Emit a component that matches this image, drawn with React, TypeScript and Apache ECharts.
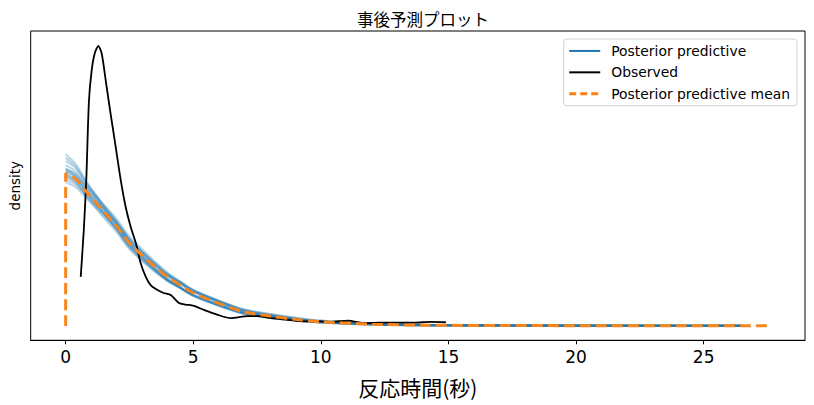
import React, { useEffect, useRef } from "react";
import * as echarts from "echarts";

const CJK = "'Noto Sans CJK JP', 'DejaVu Sans', sans-serif";
const LATIN = "'DejaVu Sans', 'Noto Sans CJK JP', sans-serif";

const TITLE = "事後予測プロット";
const X_LABEL = "反応時間(秒)";
const Y_LABEL = "density";
const X_TICKS = [0, 5, 10, 15, 20, 25];

// Observed KDE
const OBS_X = [0.59, 0.71, 0.81, 0.91, 1.02, 1.14, 1.28, 1.41, 1.57, 1.76, 1.96, 2.16, 2.35, 2.55, 2.75, 2.94, 3.14, 3.33, 3.6, 3.84, 4.12, 4.43, 4.7, 5.02, 5.41, 5.96, 6.47, 7.13, 7.53, 8.04, 8.71, 9.33, 10.0, 10.4, 11.06, 11.69, 12.35, 13.02, 13.65, 14.3, 14.9];
const OBS_Y = [0.119, 0.232, 0.358, 0.543, 0.62, 0.661, 0.679, 0.661, 0.595, 0.515, 0.434, 0.353, 0.289, 0.24, 0.201, 0.152, 0.119, 0.099, 0.087, 0.08, 0.075, 0.056, 0.052, 0.049, 0.039, 0.027, 0.019, 0.024, 0.024, 0.019, 0.015, 0.011, 0.011, 0.01, 0.013, 0.007, 0.008, 0.008, 0.008, 0.01, 0.009];

// Posterior predictive mean
const MEAN_X = [0, 0, 0.4, 0.8, 1.2, 1.6, 2, 2.5, 3, 3.5, 4, 4.5, 5, 6, 7, 8, 9, 10, 12, 14, 17, 20, 24, 27.5];
const MEAN_Y = [0, 0.37, 0.356, 0.326, 0.298, 0.27, 0.242, 0.201, 0.171, 0.143, 0.118, 0.099, 0.08, 0.055, 0.034, 0.024, 0.016, 0.01, 0.0045, 0.002, 0.0012, 0.0008, 0.0006, 0.0005];

// Posterior predictive samples (shared x grid)
const PP_X = [0, 0.4, 0.8, 1.2, 1.6, 2, 2.5, 3, 3.5, 4, 4.5, 5, 6, 7, 8, 9, 10, 12, 14, 17, 20, 26.5];
const PP_A = [0.416, 0.392, 0.352, 0.316, 0.282, 0.25, 0.205, 0.171, 0.14, 0.113, 0.093, 0.074, 0.049, 0.029, 0.02, 0.013, 0.008, 0.0035, 0.0014, 0.0008, 0.0005, 0.0003];
const PP_B = [0.4, 0.382, 0.348, 0.316, 0.285, 0.254, 0.211, 0.179, 0.149, 0.122, 0.102, 0.082, 0.056, 0.034, 0.024, 0.016, 0.01, 0.0045, 0.002, 0.0012, 0.0008, 0.0005];
const PP_C = [0.39, 0.374, 0.34, 0.31, 0.28, 0.251, 0.209, 0.179, 0.15, 0.124, 0.104, 0.084, 0.058, 0.036, 0.025, 0.017, 0.0105, 0.005, 0.0023, 0.0014, 0.0009, 0.0006];
const PP_D = [0.382, 0.366, 0.334, 0.304, 0.274, 0.244, 0.201, 0.169, 0.139, 0.113, 0.093, 0.074, 0.05, 0.03, 0.021, 0.014, 0.009, 0.0038, 0.0016, 0.0009, 0.0006, 0.0004];
const PP_E = [0.375, 0.361, 0.332, 0.305, 0.278, 0.251, 0.211, 0.181, 0.153, 0.127, 0.107, 0.087, 0.06, 0.037, 0.026, 0.017, 0.0105, 0.005, 0.0022, 0.0013, 0.0009, 0.0006];
const PP_F = [0.366, 0.353, 0.325, 0.299, 0.273, 0.246, 0.206, 0.177, 0.149, 0.124, 0.105, 0.085, 0.059, 0.037, 0.026, 0.0175, 0.011, 0.005, 0.0023, 0.0013, 0.0009, 0.0006];
const PP_G = [0.36, 0.347, 0.319, 0.292, 0.265, 0.237, 0.195, 0.164, 0.136, 0.111, 0.093, 0.075, 0.051, 0.031, 0.022, 0.015, 0.0095, 0.0042, 0.0018, 0.0011, 0.0007, 0.0004];
const PP_H = [0.354, 0.342, 0.316, 0.291, 0.266, 0.24, 0.201, 0.173, 0.147, 0.123, 0.105, 0.087, 0.062, 0.04, 0.029, 0.02, 0.013, 0.0065, 0.003, 0.0017, 0.0011, 0.0007];
const PP_I = [0.348, 0.336, 0.31, 0.285, 0.26, 0.234, 0.195, 0.167, 0.141, 0.118, 0.101, 0.084, 0.061, 0.04, 0.029, 0.02, 0.013, 0.0065, 0.003, 0.0017, 0.0011, 0.0007];
const PP_J = [0.378, 0.362, 0.328, 0.296, 0.264, 0.233, 0.19, 0.16, 0.133, 0.11, 0.093, 0.076, 0.053, 0.033, 0.024, 0.016, 0.01, 0.0045, 0.002, 0.0012, 0.0008, 0.0005];
const PP_K = [0.37, 0.356, 0.324, 0.294, 0.264, 0.234, 0.192, 0.162, 0.135, 0.111, 0.093, 0.075, 0.052, 0.032, 0.023, 0.0155, 0.0097, 0.0044, 0.002, 0.0012, 0.0008, 0.0005];
const PP_L = [0.408, 0.386, 0.346, 0.31, 0.276, 0.244, 0.199, 0.166, 0.136, 0.11, 0.091, 0.073, 0.049, 0.03, 0.021, 0.014, 0.0085, 0.0037, 0.0015, 0.0009, 0.0005, 0.0003];
const PP_M = [0.38, 0.368, 0.34, 0.314, 0.287, 0.259, 0.217, 0.186, 0.156, 0.129, 0.108, 0.088, 0.061, 0.038, 0.027, 0.018, 0.0115, 0.0055, 0.0025, 0.0015, 0.001, 0.0006];
const PP_N = [0.365, 0.348, 0.315, 0.285, 0.255, 0.227, 0.186, 0.157, 0.131, 0.108, 0.091, 0.073, 0.05, 0.03, 0.021, 0.014, 0.0085, 0.0035, 0.0015, 0.0009, 0.0006, 0.0004];
const PP_SAMPLES = [PP_A, PP_B, PP_C, PP_D, PP_E, PP_F, PP_G, PP_H, PP_I, PP_J, PP_K, PP_L, PP_M, PP_N];

const PP_NAME = "Posterior predictive";
const OBS_NAME = "Observed";
const MEAN_NAME = "Posterior predictive mean";

const zip = (xs: number[], ys: number[]) => xs.map((x, i) => [x, ys[i]]);

export default function App() {
  const ref = useRef<HTMLDivElement>(null);
  useEffect(() => {
    if (!ref.current) return;
    const chart = echarts.init(ref.current, null, { renderer: "svg" });
    const ppSeries = PP_SAMPLES.map((ys) => ({
      type: "line",
      name: PP_NAME,
      data: zip(PP_X, ys),
      symbol: "none",
      smooth: 0.3,
      lineStyle: { color: "#1f77b4", width: 2, opacity: 0.3 },
      itemStyle: { color: "#1f77b4" },
      z: 2,
    }));
    chart.setOption({
      animation: false,
      title: {
        text: TITLE,
        left: 418,
        top: 6,
        textAlign: "center",
        textStyle: { fontFamily: CJK, fontSize: 16.5, fontWeight: "normal", color: "#000" },
      },
      legend: {
        orient: "vertical",
        right: 17,
        top: 39,
        itemWidth: 31,
        itemHeight: 12,
        itemGap: 7.5,
        padding: [5, 7, 5, 4],
        borderColor: "#d0d0d0",
        borderWidth: 1,
        borderRadius: 3,
        backgroundColor: "#fff",
        selectedMode: false,
        itemStyle: { opacity: 0 },
        textStyle: { fontFamily: LATIN, fontSize: 13.9, color: "#000", padding: [0, 0, 0, 6] },
        data: [
          { name: PP_NAME, itemStyle: { opacity: 0 }, lineStyle: { color: "#1f77b4", width: 2, opacity: 1 } },
          { name: OBS_NAME, itemStyle: { opacity: 0 }, lineStyle: { color: "#000", width: 2 } },
          { name: MEAN_NAME, itemStyle: { opacity: 0 }, lineStyle: { color: "#ff7f0e", width: 3, type: [7, 4] } },
        ],
      },
      grid: {
        left: 30.7,
        right: 9,
        top: 31,
        bottom: 64.7,
        show: true,
        borderColor: "#000",
        borderWidth: 1,
        backgroundColor: "transparent",
      },
      xAxis: {
        type: "value",
        min: -1.37,
        max: 28.97,
        name: X_LABEL,
        nameLocation: "middle",
        nameGap: 36,
        nameTextStyle: { fontFamily: CJK, fontSize: 21, color: "#000" },
        axisLine: { show: true, onZero: false, lineStyle: { color: "#000", width: 1 } },
        axisTick: { show: true, length: 4, customValues: X_TICKS, lineStyle: { color: "#000" } },
        axisLabel: { customValues: X_TICKS, fontFamily: LATIN, fontSize: 17, color: "#000", margin: 8 },
        splitLine: { show: false },
      },
      yAxis: {
        type: "value",
        min: -0.0347,
        max: 0.715,
        name: Y_LABEL,
        nameLocation: "middle",
        nameGap: 9,
        nameRotate: 90,
        nameTextStyle: { fontFamily: LATIN, fontSize: 13.5, color: "#000" },
        axisLine: { show: false },
        axisTick: { show: false },
        axisLabel: { show: false },
        splitLine: { show: false },
      },
      series: [
        ...ppSeries,
        {
          type: "line",
          name: OBS_NAME,
          data: zip(OBS_X, OBS_Y),
          symbol: "none",
          smooth: 0.25,
          lineStyle: { color: "#000", width: 1.8 },
          itemStyle: { color: "#000" },
          z: 3,
        },
        {
          type: "line",
          name: MEAN_NAME,
          data: zip(MEAN_X, MEAN_Y),
          symbol: "none",
          smooth: 0.3,
          lineStyle: { color: "#f8861c", width: 3, type: [11, 5] },
          itemStyle: { color: "#f8861c" },
          z: 4,
        },
      ],
    });
    return () => chart.dispose();
  }, []);
  return (
    <div
      ref={ref}
      style={{ position: "fixed", left: 0, top: 0, width: 814, height: 405, background: "#fff" }}
    />
  );
}
